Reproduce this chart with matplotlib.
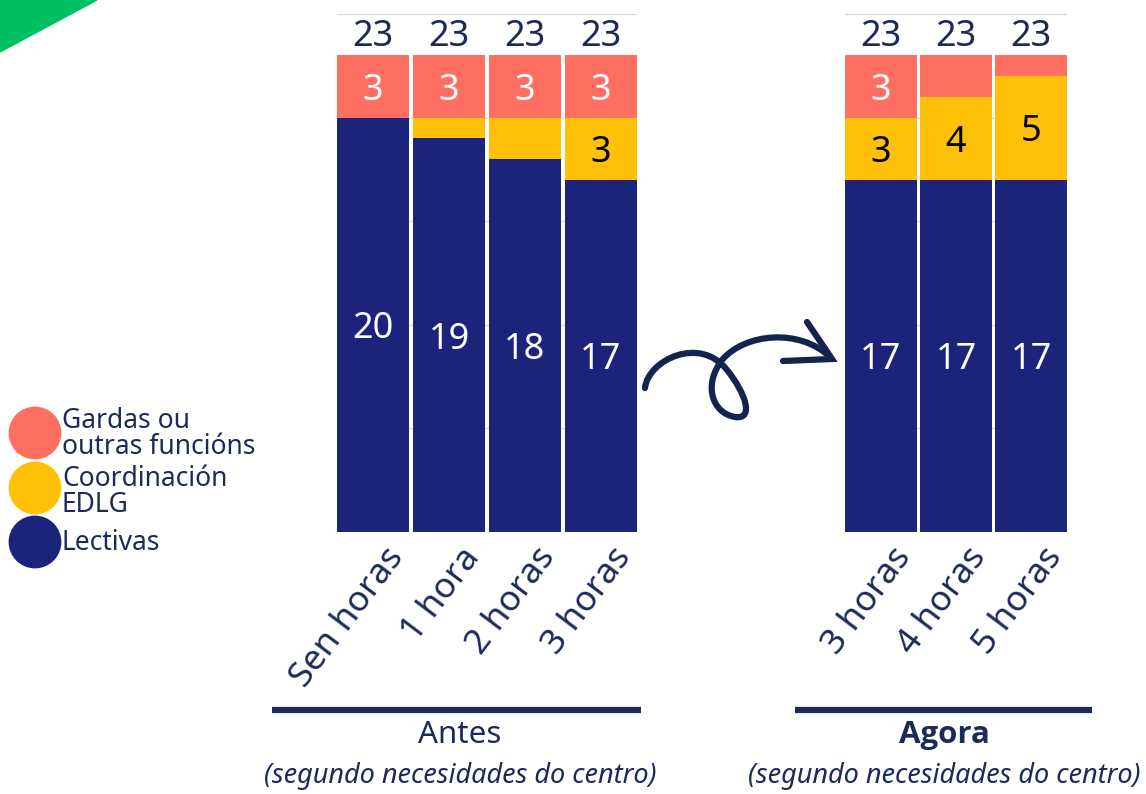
import matplotlib.pyplot as plt
from matplotlib.path import Path
from matplotlib.patches import PathPatch, Polygon
import matplotlib.transforms as mtransforms

plt.rcParams['font.family'] = ['Noto Sans', 'DejaVu Sans']

# Datos
categorias_antes = ["Sen horas", "1 hora", "2 horas", "3 horas"]
lectivas_antes = [20, 19, 18, 17]
coord_antes = [0, 1, 2, 3]
gardas_antes = [3, 3, 3, 3]

categorias_agora = ["3 horas", "4 horas", "5 horas"]
lectivas_agora = [17, 17, 17]
coord_agora = [3, 4, 5]
gardas_agora = [3, 2, 1]

series = ["Gardas ou\noutras funcións", "Coordinación\nEDLG", "Lectivas"]

# Cores
navy = "#1B237B"
amarelo = "#FFC107"
vermello = "#FF6F61"
texto = "#1C2A58"
verde = "#00BF63"

W, H = 1146, 794
fig = plt.figure(figsize=(W / 100, H / 100), dpi=100)


def px_axes(x0, y0, x1, y1):
    return fig.add_axes([x0 / W, 1 - y1 / H, (x1 - x0) / W, (y1 - y0) / H])


def panel(ax, cats, lect, coord, gard):
    x = range(len(cats))
    w = 0.955
    ax.bar(x, lect, w, color=navy, zorder=2)
    ax.bar(x, coord, w, bottom=lect, color=amarelo, zorder=2)
    base2 = [a + b for a, b in zip(lect, coord)]
    ax.bar(x, gard, w, bottom=base2, color=vermello, zorder=2)
    for i in x:
        if lect[i] >= 3:
            ax.text(i, lect[i] / 2, str(lect[i]), ha='center',
                    va='center_baseline', color='white', fontsize=26)
        if coord[i] >= 3:
            ax.text(i, lect[i] + coord[i] / 2, str(coord[i]), ha='center',
                    va='center_baseline', color='black', fontsize=26)
        if gard[i] >= 3:
            ax.text(i, base2[i] + gard[i] / 2, str(gard[i]), ha='center',
                    va='center_baseline', color='white', fontsize=26)
        total = base2[i] + gard[i]
        ax.text(i, total + 1.1, str(total), ha='center', va='center_baseline',
                color=texto, fontsize=26)
    ax.set_xlim(-w / 2, len(cats) - 1 + w / 2)
    ax.set_ylim(0, 25)
    ax.set_yticks([0, 5, 10, 15, 20, 25])
    ax.yaxis.grid(True, color='#D9D9E3', linewidth=1, zorder=0)
    ax.set_axisbelow(True)
    ax.tick_params(left=False, labelleft=False, bottom=False, pad=2)
    ax.set_xticks(list(x))
    ax.set_xticklabels(cats, rotation=53, ha='right', va='center',
                       rotation_mode='anchor', fontsize=25.5, color=texto)
    off = mtransforms.ScaledTranslation(24 / 100, -12 / 100, fig.dpi_scale_trans)
    for lab in ax.get_xticklabels():
        lab.set_transform(lab.get_transform() + off)
    for s in ax.spines.values():
        s.set_visible(False)


ax1 = px_axes(337, 14, 637, 532)
panel(ax1, categorias_antes, lectivas_antes, coord_antes, gardas_antes)

ax2 = px_axes(845, 14, 1067, 532)
panel(ax2, categorias_agora, lectivas_agora, coord_agora, gardas_agora)

# Capa de decoración en píxeles
deco = fig.add_axes([0, 0, 1, 1], zorder=-1)
deco.set_xlim(0, W)
deco.set_ylim(H, 0)
deco.axis('off')
deco.patch.set_alpha(0)

deco.add_patch(Polygon([(0, 0), (97, 0), (0, 52)], closed=True, color=verde))

# Lenda
cores = [vermello, amarelo, navy]
ys = [433, 488, 542]
for c, yy in zip(cores, ys):
    deco.scatter([35], [yy], s=38 ** 2, color=c, edgecolors='none')
deco.text(62, 434, series[0], ha='left', va='center', fontsize=19,
          color=texto, linespacing=0.95)
deco.text(62, 492, series[1], ha='left', va='center', fontsize=19,
          color=texto, linespacing=0.95)
deco.text(62, 543, series[2], ha='left', va='center', fontsize=19,
          color=texto)

# Frecha
verts = [(645, 388), (648, 360), (700, 335), (727, 370),
         (745, 392), (755, 420), (735, 417),
         (712, 413), (703, 385), (722, 360),
         (745, 333), (800, 328), (830, 357)]
codes = [Path.MOVETO] + [Path.CURVE4] * 12
deco.add_patch(PathPatch(Path(verts, codes), fill=False, edgecolor='#14244F',
                         linewidth=4.5, capstyle='round'))
deco.plot([807, 832, 783], [322, 359, 361], color='#14244F', linewidth=4.5,
          solid_capstyle='round', solid_joinstyle='miter')

# Títulos inferiores
deco.plot([272, 641], [710, 710], color=texto, linewidth=4.5,
          solid_capstyle='butt')
deco.plot([795, 1092], [710, 710], color=texto, linewidth=4.5,
          solid_capstyle='butt')
deco.text(460, 735, "Antes", ha='center', va='center', fontsize=22.5, color=texto)
deco.text(944, 735, "Agora", ha='center', va='center', fontsize=22.5,
          color=texto, fontweight='bold', family=['Open Sans', 'Noto Sans'])
deco.text(460, 776, "(segundo necesidades do centro)", ha='center',
          va='center', fontsize=19.5, color=texto, style='italic')
deco.text(944, 776, "(segundo necesidades do centro)", ha='center',
          va='center', fontsize=19.5, color=texto, style='italic')

fig.savefig("out.png", dpi=100)
